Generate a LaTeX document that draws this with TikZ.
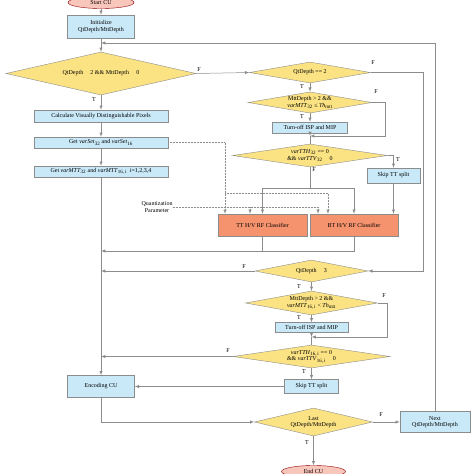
\documentclass[tikz,border=0pt]{standalone}
\usepackage{fontspec}
\setmainfont{Liberation Serif}
\usetikzlibrary{shapes.geometric}
\definecolor{boxblue}{HTML}{C9E9F8}
\definecolor{diayellow}{HTML}{FBE384}
\definecolor{clsorange}{HTML}{F5936E}
\definecolor{termpink}{HTML}{F9C6BC}
\definecolor{edgegray}{HTML}{8C8C8C}
\newcommand{\varsub}[2]{\textit{#1}\textsubscript{#2}}
\begin{document}
\begin{tikzpicture}[x=1pt, y=-1pt,
    every node/.style={font=\fontsize{6}{6.6}\selectfont, inner sep=0pt},
    procbox/.style={draw=edgegray, fill=boxblue, align=center},
    decision/.style={diamond, draw=edgegray, fill=diayellow, aspect=5, align=center},
    classbox/.style={draw=edgegray, fill=clsorange, align=center},
    terminal/.style={ellipse, draw=red!55!black, fill=termpink},
    flow/.style={draw=edgegray, line width=0.5pt},
    dataflow/.style={draw=edgegray, densely dotted, line width=0.5pt},
    lbl/.style={font=\fontsize{6}{6.5}\selectfont}]
    \useasboundingbox (0,0) rectangle (474,474);

    % left column
    \node (startcu) [terminal, minimum width=66, minimum height=12] at (101,2.5) {Start CU};
    \node (init) [procbox, minimum width=67, minimum height=23] at (101,26.5) {Initialize\\QtDepth/MttDepth};
    \node (dq1) [decision, minimum width=190, minimum height=43] at (101,73.5) {QtDepth\hspace{1.2em}2 \&\& MttDepth\hspace{1.2em}0};
    \node (calc) [procbox, minimum width=134, minimum height=12] at (101,116) {Calculate Visually Distinguishable Pixels};
    \node (getset) [procbox, minimum width=134, minimum height=11] at (101,142.5) {Get \varsub{varSet}{32} and \varsub{varSet}{16}};
    \node (getmtt) [procbox, minimum width=134, minimum height=11] at (101,171.5) {Get \varsub{varMTT}{32} and \varsub{varMTT}{16,\,i}\ \ i=1,2,3,4};
    \node (enc) [procbox, minimum width=67, minimum height=22] at (101,386.5) {Encoding CU};

    % 32x32 branch
    \node (dq2) [decision, minimum width=121, minimum height=21] at (310,72.5) {QtDepth == 2};
    \node (dm1) [decision, minimum width=124, minimum height=21] at (310,102.5) {MttDepth > 2 \&\&\\\varsub{varMTT}{32} ≤ \varsub{Th}{mtt}};
    \node (isp1) [procbox, minimum width=75, minimum height=11] at (310,127.5) {Turn-off ISP and MIP};
    \node (dtt1) [decision, minimum width=155, minimum height=23] at (310,155.5) {\varsub{varTTH}{32} == 0\\\&\& \varsub{varTTV}{32}\hspace{1.2em}0};
    \node (skip1) [procbox, minimum width=53, minimum height=15] at (393.5,175.5) {Skip TT split};
    \node (tt) [classbox, minimum width=89, minimum height=22] at (262.5,225) {TT H/V RF Classifier};
    \node (bt) [classbox, minimum width=88, minimum height=22] at (354,225) {BT H/V RF Classifier};
    \node (qp) [align=center] at (157,207) {Quantization\\Parameter};

    % 16x16 branch
    \node (dq3) [decision, minimum width=113, minimum height=22] at (311.5,271) {QtDepth\hspace{1.2em}3};
    \node (dm2) [decision, minimum width=132, minimum height=24] at (311.5,303) {MttDepth > 2 \&\&\\\varsub{varMTT}{16,\,i} < \varsub{Th}{mtt}};
    \node (isp2) [procbox, minimum width=73, minimum height=10] at (311.5,327.5) {Turn-off ISP and MIP};
    \node (dtt2) [decision, minimum width=157, minimum height=23] at (311.5,356.5) {\varsub{varTTH}{16,\,i} == 0\\\&\& \varsub{varTTV}{16,\,i}\hspace{1.2em}0};
    \node (skip2) [procbox, minimum width=54, minimum height=14] at (311.5,386.5) {Skip TT split};

    % loop control
    \node (dlast) [decision, minimum width=118, minimum height=28] at (313.5,422) {Last\\QtDepth/MttDepth};
    \node (next) [procbox, minimum width=70, minimum height=21] at (435,422) {Next\\QtDepth/MttDepth};
    \node (endcu) [terminal, minimum width=64, minimum height=12] at (313.5,471.5) {End CU};

    % T/F labels
    \node (f1) [lbl] at (199,70) {F};
    \node (t1) [lbl] at (94,100) {T};
    \node (f2) [lbl] at (373,63) {F};
    \node (t2) [lbl] at (302,87) {T};
    \node (f3) [lbl] at (376,92) {F};
    \node (t3) [lbl] at (302,117) {T};
    \node (t4) [lbl] at (398,160) {T};
    \node (f4) [lbl] at (314,170) {F};
    \node (f5) [lbl] at (244,267) {F};
    \node (t5) [lbl] at (299,287) {T};
    \node (f6) [lbl] at (384,296) {F};
    \node (t6) [lbl] at (299,318) {T};
    \node (f7) [lbl] at (228,351) {F};
    \node (t7) [lbl] at (304,372) {T};
    \node (f8) [lbl] at (381,415) {F};
    \node (t8) [lbl] at (307,443) {T};

    % junctions
    \coordinate (j0) at (101,43);
    \coordinate (j1) at (310,136);
    \coordinate (jtt) at (310,188);
    \coordinate (jcls) at (101,251);
    \coordinate (vsx) at (225,193);
    \coordinate (j2) at (311.5,337);

    % main flow
    \draw [flow, -latex] (startcu) -- (init);
    \draw [flow, -latex] (init) -- (dq1);
    \draw [flow, -latex] (dq1) -- (calc);
    \draw [flow, -latex] (calc) -- (getset);
    \draw [flow, -latex] (getset) -- (getmtt);
    \draw [flow, -latex] (getmtt) -- (enc);
    \draw [flow, -latex] (dq1.east) -- (dq2.west);
    \draw [flow, -latex] (dq2) -- (dm1);
    \draw [flow, -latex] (dm1) -- (isp1);
    \draw [flow, -latex] (isp1) -- (j1);
    \draw [flow] (j1) -- (dtt1.north);
    \draw [flow, -latex] (dm1.east) -- ++(13,0) |- (j1);
    \draw [flow, -latex] (dtt1.east) -| (skip1.north);
    \draw [flow] (dtt1.south) -- (jtt);
    \draw [flow, -latex] (jtt) -| (tt.north);
    \draw [flow, -latex] (jtt) -| (bt.north);
    \draw [flow, -latex] (skip1.south) -- (skip1.south |- bt.north);
    \draw [flow] (tt.south) -- (tt.south |- jcls);
    \draw [flow, -latex] (bt.south) |- (jcls);
    \draw [flow, -latex] (dq2.east) -- ++(52.5,0) |- (dq3.east);

    % classifier inputs
    \draw [dataflow, -latex] (getset.east) -| (vsx) -- (vsx |- tt.north);
    \draw [dataflow, -latex] (vsx) -| ([xshift=-26pt]bt.north);
    \draw [dataflow, -latex] (qp.east) -| ([xshift=-36pt]bt.north);
    \draw [dataflow, -latex] ([xshift=-12.5pt]tt.north |- qp.east) -- ([xshift=-12.5pt]tt.north);

    % lower part
    \draw [flow, -latex] (dq3.west) -- (dq3.west -| enc);
    \draw [flow, -latex] (dq3) -- (dm2);
    \draw [flow, -latex] (dm2) -- (isp2);
    \draw [flow, -latex] (isp2) -- (j2);
    \draw [flow] (j2) -- (dtt2.north);
    \draw [flow, -latex] (dm2.east) -- ++(9.5,0) |- (j2);
    \draw [flow, -latex] (dtt2.west) -- (dtt2.west -| enc);
    \draw [flow, -latex] (dtt2) -- (skip2);
    \draw [flow, -latex] (skip2.west) -- (enc.east);
    \draw [flow, -latex] (enc.south) |- (dlast.west);
    \draw [flow, -latex] (dlast.east) -- (next.west);
    \draw [flow, -latex] (dlast) -- (endcu);
    \draw [flow, -latex] (next.north) |- (j0);
\end{tikzpicture}
\end{document}
